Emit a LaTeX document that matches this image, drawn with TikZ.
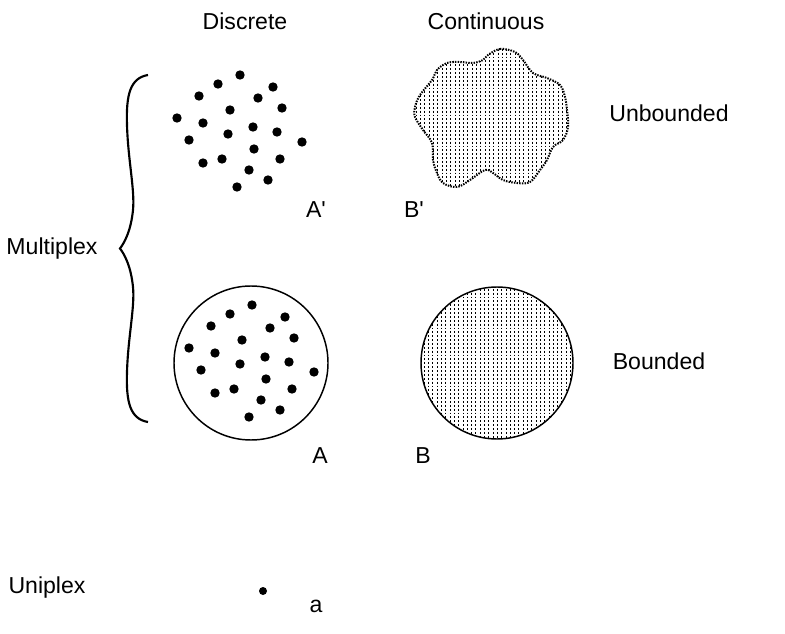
\documentclass[tikz,border=0pt]{standalone}
\usepackage{fontspec}
\setmainfont{Liberation Sans}
\usetikzlibrary{positioning}
\tikzset{
  lbl/.style={font=\fontsize{17.3}{20}\selectfont, inner sep=0pt, anchor=base},
  grain/.style={fill=black},
  rim/.style={black, line width=1.1pt},
  hatch/.style={black, line width=0.75pt, dash pattern=on 1.4pt off 1.5pt},
  blobrim/.style={black, line width=1.5pt, dash pattern=on 1.1pt off 0.9pt},
  bracket/.style={black, line width=1.6pt}
}
% one cloud of grains, drawn unbounded and inside the circle
\newcommand{\grains}{240/75,218/84,273/87,199/96,258/98,230/110,282/108,177/118,203/123,
  253/127,228/134,277/132,189/140,302/142,254/149,203/163,222/159,280/159,249/170,268/180,237/187}

\begin{document}
\begin{tikzpicture}[x=0.75pt,y=-0.75pt]
  \useasboundingbox (0,0) rectangle (785,634);
  % column and row labels
  \node[lbl] (discrete) at (245,30) {Discrete};
  \node[lbl] (continuous) at (486,30) {Continuous};
  \node[lbl] (unbounded) at (669,122) {Unbounded};
  \node[lbl] (bounded) at (659,369) {Bounded};
  \node[lbl] (multiplex) at (52,255) {Multiplex};
  \node[lbl] (uniplex) at (47,593) {Uniplex};
  \node[lbl] (lblAp) at (316,218) {A\textquotesingle};
  \node[lbl] (lblBp) at (414,218) {B\textquotesingle};
  \node[lbl] (lblA) at (320,463) {A};
  \node[lbl] (lblB) at (423,463) {B};
  \node[lbl] (lbla) at (316,612) {a};
  % brace
  \draw[bracket] (148,75) .. controls (130,78) and (126,95) .. (127,125)
    .. controls (128,160) and (135,190) .. (133,210)
    .. controls (131,230) and (125,242) .. (120,248.5)
    .. controls (125,255) and (131,267) .. (133,287)
    .. controls (135,307) and (128,337) .. (127,372)
    .. controls (126,402) and (130,419) .. (148,422);
  % A' : free grains
  \foreach \gx/\gy in \grains {
    \fill[grain] (\gx,\gy) circle (4.7);
  }
  % A : grains in a circle
  \draw[rim] (251,363) circle (77);
  \foreach \gx/\gy in \grains {
    \fill[grain] (\gx+12,\gy+230) circle (4.7);
  }
  % B' : continuous unbounded blob
  \path[save path=\blobshape] plot[smooth cycle, tension=0.6] coordinates {
    (488,55) (500,49) (515,52) (523,60) (533,73) (547,78) (560,85) (565,97)
    (567,110) (568,127) (563,140) (553,147) (547,160) (540,170) (530,182)
    (517,183) (503,180) (493,173) (485,170) (470,180) (457,187) (443,183)
    (437,173) (433,160) (432,143) (423,130) (415,117) (415,107) (420,95)
    (432,80) (437,70) (447,63) (460,62) (473,63) (483,60)};
  \begin{scope}
    \clip[use path=\blobshape];
    \foreach \hx in {412,416.3,...,572} {
      \draw[hatch] (\hx,45) -- (\hx,190);
    }
  \end{scope}
  \draw[blobrim, use path=\blobshape];
  % B : continuous bounded disc
  \begin{scope}
    \clip (497,363) circle (76);
    \foreach \hx in {420,424.3,...,575} {
      \draw[hatch] (\hx,285) -- (\hx,442);
    }
  \end{scope}
  \draw[rim] (497,363) circle (76);
  % a : single grain
  \fill[grain] (263,591) circle (4);
\end{tikzpicture}
\end{document}
